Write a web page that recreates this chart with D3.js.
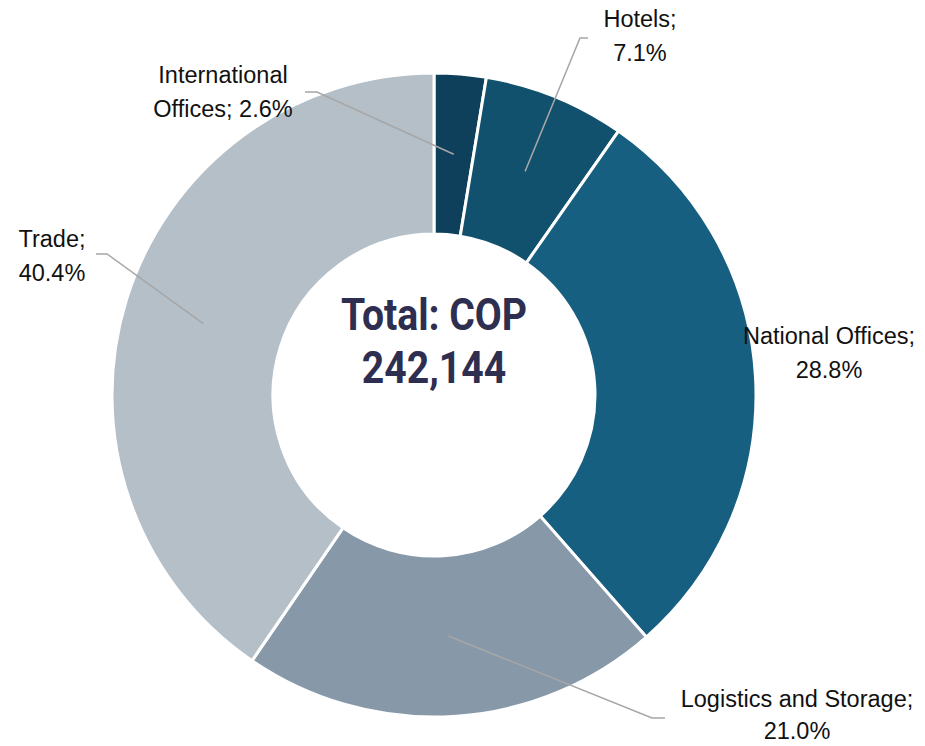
<!DOCTYPE html>
<html>
<head>
<meta charset="utf-8">
<script src="https://cdn.jsdelivr.net/npm/d3@7"></script>
<style>
  body { margin: 0; background: #fff; }
  svg { display: block; }
</style>
</head>
<body>
<div id="chart"></div>
<script>
// Data
var categories = ["International Offices", "Hotels", "National Offices", "Logistics and Storage", "Trade"];
var shares = [2.6, 7.1, 28.8, 21.0, 40.4];
var labelLines = [["International", "Offices; 2.6%"], ["Hotels;", "7.1%"], ["National Offices;", "28.8%"],
                  ["Logistics and Storage;", "21.0%"], ["Trade;", "40.4%"]];
var colors = ["#0f405b", "#12516d", "#175f80", "#8798a9", "#b4bfc8"];
var totalText = ["Total: COP", "242,144"];

// Set the dimensions
var width = 925, height = 746;
var cx = 434, cy = 395, outerR = 322, innerR = 161;

// label anchors (text centre x, first baseline y, line gap) and leader-line elbow points
var labelLayout = [
  { x: 223, y: 83, gap: 34, elbow: [[317, 92], [305, 92]] },
  { x: 640, y: 27, gap: 34, elbow: [[580, 38], [588, 38]] },
  { x: 829, y: 344, gap: 34, elbow: null },
  { x: 797, y: 707, gap: 32, elbow: [[652, 718], [665, 718]] },
  { x: 52, y: 247, gap: 34, elbow: [[107, 254], [96, 254]] }
];

var svg = d3.select("#chart")
    .append("svg")
    .attr("width", width)
    .attr("height", height);

var g = svg.append("g")
    .attr("transform", "translate(" + cx + "," + cy + ")");

var pie = d3.pie().sort(null).value(function (d) { return d; });
var arcs = pie(shares);

var arc = d3.arc().innerRadius(innerR).outerRadius(outerR);

// Slices
g.selectAll("path.slice")
    .data(arcs)
    .enter().append("path")
    .attr("class", "slice")
    .attr("d", arc)
    .attr("fill", function (d, i) { return colors[i]; })
    .attr("stroke", "#fff")
    .attr("stroke-width", 3)
    .attr("stroke-linejoin", "miter");

// Leader lines
arcs.forEach(function (d, i) {
  var lay = labelLayout[i];
  if (!lay.elbow) return;
  var c = arc.centroid(d);
  var pts = [[c[0] + cx, c[1] + cy]].concat(lay.elbow);
  svg.append("path")
      .attr("d", d3.line()(pts))
      .attr("fill", "none")
      .attr("stroke", "#a6a6a6")
      .attr("stroke-width", 1.5);
});

// Labels
labelLines.forEach(function (lines, i) {
  var lay = labelLayout[i];
  var t = svg.append("text")
      .attr("text-anchor", "middle")
      .style("font-family", "'Liberation Sans', Arial, sans-serif")
      .style("font-size", "23.5px")
      .style("fill", "#111");
  lines.forEach(function (s, j) {
    t.append("tspan")
        .attr("x", lay.x)
        .attr("y", lay.y + j * lay.gap)
        .text(s);
  });
});

// Centre total (squeezed horizontally to mimic a narrow bold face)
var tt = svg.append("text")
    .attr("text-anchor", "middle")
    .attr("transform", "translate(" + cx + ",0) scale(0.87,1)")
    .style("font-family", "Roboto, sans-serif")
    .style("font-weight", "bold")
    .style("font-size", "45px")
    .style("fill", "#2e2e50");
totalText.forEach(function (s, j) {
  tt.append("tspan")
      .attr("x", 0)
      .attr("y", 330 + j * 53)
      .text(s);
});
</script>
</body>
</html>
